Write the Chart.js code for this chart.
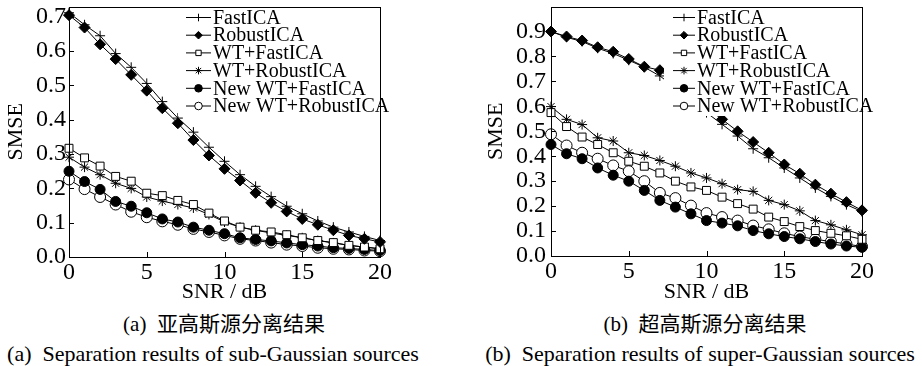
<!DOCTYPE html>
<html>
<head>
<meta charset="utf-8">
<script src="https://cdn.jsdelivr.net/npm/chart.js"></script>
<style>
  html, body { margin:0; padding:0; background:#fff; }
  body { width:922px; height:366px; position:relative; overflow:hidden; }
  canvas { position:absolute; top:0; }
  .cap { position:absolute; white-space:pre; transform:translateX(-50%); line-height:1;
         font-family:"Liberation Serif","Noto Sans CJK SC",serif; color:#000; }
  .zh { font-size:21px; }
  .en { font-size:22px; }
</style>
</head>
<body>
<canvas id="cA" width="460" height="305" style="left:0px"></canvas>
<canvas id="cB" width="462" height="305" style="left:460px"></canvas>
<div class="cap zh" style="left:224px;top:314px">(a)  亚高斯源分离结果</div>
<div class="cap en" style="left:213px;top:343px">(a)  Separation results of sub-Gaussian sources</div>
<div class="cap zh" style="left:705px;top:314px">(b)  超高斯源分离结果</div>
<div class="cap en" style="left:700px;top:343px">(b)  Separation results of super-Gaussian sources</div>
<script>
// ---------------- data ----------------
const snr = [0,1,2,3,4,5,6,7,8,9,10,11,12,13,14,15,16,17,18,19,20];
const seriesNames = ["FastICA","RobustICA","WT+FastICA","WT+RobustICA","New WT+FastICA","New WT+RobustICA"];

// (a) sub-Gaussian sources
const subFastICA      = [0.712,0.677,0.645,0.593,0.553,0.506,0.453,0.405,0.364,0.320,0.279,0.240,0.206,0.176,0.148,0.126,0.105,0.087,0.073,0.060,0.048];
const subRobustICA    = [0.705,0.669,0.620,0.577,0.531,0.485,0.434,0.390,0.341,0.296,0.257,0.223,0.187,0.158,0.133,0.111,0.094,0.078,0.063,0.053,0.044];
const subWTFast       = [0.317,0.289,0.265,0.235,0.221,0.186,0.179,0.165,0.153,0.128,0.105,0.087,0.078,0.073,0.065,0.056,0.048,0.042,0.034,0.029,0.024];
const subWTRobust     = [0.291,0.262,0.240,0.215,0.200,0.175,0.163,0.153,0.143,0.124,0.102,0.087,0.078,0.070,0.063,0.056,0.048,0.041,0.034,0.029,0.024];
const subNewWTFast    = [0.250,0.220,0.197,0.162,0.148,0.129,0.111,0.102,0.087,0.078,0.068,0.056,0.051,0.047,0.041,0.036,0.032,0.027,0.025,0.022,0.019];
const subNewWTRobust  = [0.226,0.198,0.175,0.153,0.132,0.116,0.104,0.094,0.082,0.073,0.063,0.053,0.048,0.042,0.036,0.032,0.027,0.024,0.022,0.019,0.017];

// (b) super-Gaussian sources
const supFastICA      = [0.900,0.877,0.860,0.833,0.812,0.785,0.757,0.722,0.675,0.625,0.575,0.528,0.481,0.430,0.394,0.353,0.313,0.273,0.239,0.206,0.178];
const supRobustICA    = [0.900,0.880,0.864,0.837,0.819,0.790,0.759,0.745,0.695,0.645,0.595,0.548,0.500,0.457,0.414,0.367,0.330,0.286,0.250,0.216,0.183];
const supWTFast       = [0.575,0.519,0.477,0.447,0.414,0.380,0.360,0.333,0.300,0.277,0.263,0.236,0.210,0.188,0.156,0.138,0.118,0.102,0.091,0.081,0.067];
const supWTRobust     = [0.599,0.548,0.527,0.474,0.461,0.414,0.403,0.383,0.360,0.333,0.313,0.290,0.266,0.259,0.223,0.206,0.181,0.142,0.125,0.105,0.085];
const supNewWTFast    = [0.447,0.410,0.390,0.353,0.324,0.300,0.263,0.223,0.196,0.169,0.142,0.132,0.121,0.102,0.089,0.078,0.069,0.058,0.048,0.040,0.035];
const supNewWTRobust  = [0.488,0.443,0.414,0.390,0.363,0.340,0.300,0.253,0.232,0.202,0.172,0.156,0.142,0.122,0.107,0.091,0.078,0.067,0.058,0.048,0.038];

const xTickValues = [0,5,10,15,20];
const yTickStep = 0.1;

// ---------------- styling ----------------
const SERIF = '"Liberation Serif", "Times New Roman", serif';
const markerStyles = [
  {pointStyle:'cross',   radius:5,   bg:'#000'},
  {pointStyle:'rectRot', radius:5.5, bg:'#000'},
  {pointStyle:'rect',    radius:5.6, bg:'#fff'},
  {pointStyle:'star',    radius:5,   bg:'#000'},
  {pointStyle:'circle',  radius:5,   bg:'#000'},
  {pointStyle:'circle',  radius:5.5, bg:'#fff'}
];

function makeDatasets(arrs) {
  return arrs.map((vals, i) => ({
    label: seriesNames[i],
    data: vals,
    borderColor: '#000',
    borderWidth: 1,
    pointStyle: markerStyles[i].pointStyle,
    pointRadius: markerStyles[i].radius,
    pointBackgroundColor: markerStyles[i].bg,
    pointBorderColor: '#000',
    pointBorderWidth: 1,
    tension: 0,
    clip: false
  }));
}

function drawMarker(ctx, style, r, x, y, bg) {
  ctx.save();
  ctx.strokeStyle = '#000';
  ctx.fillStyle = bg;
  ctx.lineWidth = 1;
  ctx.beginPath();
  if (style === 'cross') {
    ctx.moveTo(x - r, y); ctx.lineTo(x + r, y);
    ctx.moveTo(x, y - r); ctx.lineTo(x, y + r);
    ctx.stroke();
  } else if (style === 'rectRot') {
    ctx.moveTo(x, y - r); ctx.lineTo(x + r, y); ctx.lineTo(x, y + r); ctx.lineTo(x - r, y); ctx.closePath();
    ctx.fill(); ctx.stroke();
  } else if (style === 'rect') {
    const s = r * Math.SQRT1_2;
    ctx.rect(x - s, y - s, 2 * s, 2 * s);
    ctx.fill(); ctx.stroke();
  } else if (style === 'star') {
    for (let k = 0; k < 4; k++) {
      const a = k * Math.PI / 4;
      ctx.moveTo(x - r * Math.cos(a), y - r * Math.sin(a));
      ctx.lineTo(x + r * Math.cos(a), y + r * Math.sin(a));
    }
    ctx.stroke();
  } else {
    ctx.arc(x, y, r, 0, Math.PI * 2);
    ctx.fill(); ctx.stroke();
  }
  ctx.restore();
}

const framePlugin = {
  id: 'frameAndLegend',
  afterDatasetsDraw(chart, args, opts) {
    const ctx = chart.ctx, a = chart.chartArea;
    ctx.save();
    // legend (white box hides lines beneath)
    ctx.fillStyle = '#fff';
    ctx.fillRect(opts.boxLeft, a.top + 1, a.right - opts.boxLeft - 1, opts.boxBottom - a.top - 1);
    chart.data.datasets.forEach((ds, i) => {
      const y = opts.y0 + i * opts.dy;
      ctx.strokeStyle = '#000'; ctx.lineWidth = 1;
      ctx.beginPath(); ctx.moveTo(opts.x, y); ctx.lineTo(opts.x + opts.len, y); ctx.stroke();
      drawMarker(ctx, ds.pointStyle, opts.r, opts.x + opts.len / 2, y, ds.pointBackgroundColor);
      ctx.fillStyle = '#000';
      ctx.font = opts.fontSize + 'px ' + SERIF;
      ctx.textBaseline = 'middle';
      ctx.textAlign = 'left';
      ctx.fillText(ds.label, opts.x + opts.len + 2, y + 1);
    });
    // frame
    ctx.strokeStyle = '#000'; ctx.lineWidth = 1;
    ctx.strokeRect(Math.round(a.left) + 0.5, Math.round(a.top) + 0.5, Math.round(a.right - a.left), Math.round(a.bottom - a.top));
    // inward ticks
    const ys = chart.scales.y, xs = chart.scales.x;
    ys.ticks.forEach(t => {
      const py = Math.round(ys.getPixelForValue(t.value)) + 0.5;
      ctx.beginPath(); ctx.moveTo(a.left, py); ctx.lineTo(a.left + 5, py); ctx.stroke();
    });
    xs.ticks.forEach(t => {
      const px = Math.round(xs.getPixelForValue(t.value)) + 0.5;
      ctx.beginPath(); ctx.moveTo(px, a.bottom); ctx.lineTo(px, a.bottom - 5); ctx.stroke();
    });
    ctx.restore();
  }
};

function makeChart(id, arrs, yMax, yLastTick, lay, legendOpts) {
  return new Chart(document.getElementById(id), {
    type: 'line',
    data: { labels: snr, datasets: makeDatasets(arrs) },
    options: {
      responsive: false, animation: false, devicePixelRatio: 1,
      layout: { padding: lay.padding },
      plugins: { legend: { display: false }, tooltip: { enabled: false }, frameAndLegend: legendOpts },
      scales: {
        x: {
          type: 'linear', min: 0, max: 20,
          afterBuildTicks: s => { s.ticks = xTickValues.map(v => ({value: v})); },
          afterFit: s => { s.height = lay.xHeight; s.paddingLeft = 0; s.paddingRight = 0; s.paddingTop = 0; s.paddingBottom = 0; },
          grid: { display: false, drawTicks: false },
          border: { display: false },
          ticks: { color: '#000', padding: 1, font: { family: SERIF, size: 24 }, maxRotation: 0, autoSkip: false },
          title: { display: true, text: 'SNR / dB', color: '#000', font: { family: SERIF, size: 22 }, padding: { top: 0, bottom: 0 } }
        },
        y: {
          min: 0, max: yMax,
          afterBuildTicks: s => {
            const t = [];
            for (let v = 0; v <= yLastTick + 1e-9; v += yTickStep) t.push({value: Math.round(v * 10) / 10});
            s.ticks = t;
          },
          afterFit: s => { s.width = lay.yWidth; s.paddingLeft = 0; s.paddingRight = 0; s.paddingTop = 0; s.paddingBottom = 0; },
          grid: { display: false, drawTicks: false },
          border: { display: false },
          ticks: { color: '#000', padding: lay.yPad, autoSkip: false, font: { family: SERIF, size: 24 }, callback: v => v.toFixed(1) },
          title: { display: true, text: 'SMSE', color: '#000', font: { family: SERIF, size: 22 }, padding: { top: 3, bottom: 0 } }
        }
      }
    },
    plugins: [framePlugin]
  });
}

makeChart('cA',
  [subFastICA, subRobustICA, subWTFast, subWTRobust, subNewWTFast, subNewWTRobust],
  0.73, 0.7,
  { padding: {left: 0, right: 80, top: 5, bottom: 0}, xHeight: 48, yWidth: 69, yPad: 3 },
  { boxLeft: 178, boxBottom: 116, x: 186, len: 25, y0: 17.5, dy: 17.7, r: 3.8, fontSize: 20 });

makeChart('cB',
  [supFastICA, supRobustICA, supWTFast, supWTRobust, supNewWTFast, supNewWTRobust],
  1.0, 0.9,
  { padding: {left: 20, right: 60, top: 6, bottom: 0}, xHeight: 49, yWidth: 71, yPad: 5 },
  { boxLeft: 204, boxBottom: 116, x: 213, len: 22, y0: 17.5, dy: 17.7, r: 3.8, fontSize: 20 });
</script>
</body>
</html>
